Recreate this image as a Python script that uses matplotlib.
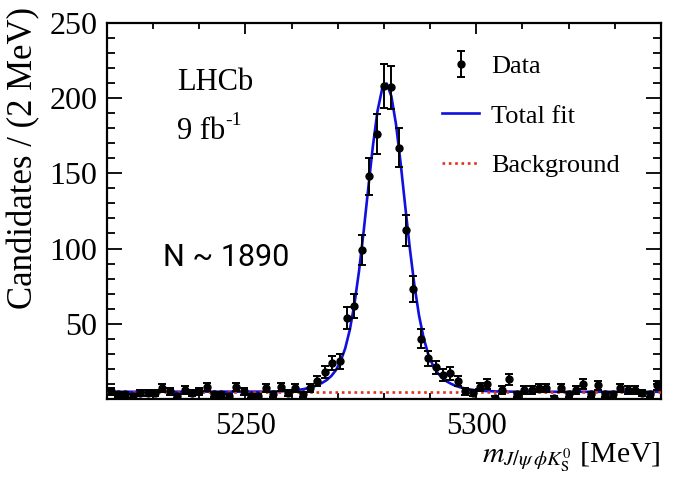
import numpy as np
import matplotlib
matplotlib.use('Agg')
import matplotlib.pyplot as plt
from matplotlib.ticker import MultipleLocator

plt.rcParams['font.family'] = ['Liberation Serif', 'DejaVu Serif']
plt.rcParams['mathtext.fontset'] = 'stix'

# 75 bins between 5220 and 5340 MeV
mass = np.linspace(5220.8, 5339.2, 75)
counts = [5, 3, 3, 2, 4, 4, 4, 7, 5, 2,
          6, 4, 5, 8, 3, 3, 2, 8, 5, 2,
          2, 7, 3, 8, 4, 7, 3, 7, 12, 18,
          24, 25, 54, 62, 99, 148, 176, 208, 207, 167,
          112, 73, 40, 27, 21, 16, 17, 12, 5, 4,
          8, 10, 1, 6, 13, 3, 6, 6, 7, 7,
          1, 7, 3, 6, 10, 3, 9, 3, 3, 7,
          6, 6, 4, 3, 9]
errors = np.sqrt(counts)

# total fit curve
fit_x = [5220, 5254.6, 5257.6, 5259.6, 5260.6, 5261.6, 5262.6, 5263.6, 5264.6, 5265.6,
         5266.6, 5267.6, 5268.6, 5269.6, 5270.6, 5271.6, 5272.6, 5273.6, 5274.6, 5275.6,
         5276.6, 5277.6, 5278.6, 5279.6, 5280.6, 5281.6, 5282.6, 5283.6, 5284.6, 5285.6,
         5286.6, 5287.6, 5288.6, 5289.6, 5290.6, 5291.6, 5292.6, 5293.6, 5294.6, 5295.6,
         5296.6, 5297.6, 5298.6, 5299.6, 5301.6, 5304.6, 5309.6, 5340]
fit_y = [4.8, 4.9, 5.1, 5.4, 5.7, 6.1, 6.6, 7.3, 8.1, 9.2,
         10.7, 12.6, 15.3, 19.2, 25.0, 33.6, 45.9, 63.0, 85.0, 111.3,
         140.1, 168.0, 191.3, 205.9, 209.6, 201.3, 182.8, 157.2, 128.4, 100.3,
         75.6, 55.5, 40.5, 29.7, 22.4, 17.5, 14.1, 11.7, 10.0, 8.7,
         7.7, 7.0, 6.4, 5.9, 5.4, 5.0, 4.8, 4.8]

bkg_x = [5220, 5340]
bkg_y = [4.8, 4.8]

fig = plt.figure(figsize=(6.73, 4.84), dpi=100)
ax = fig.add_axes([0.159, 0.1756, 0.823, 0.7774])

line_fit, = ax.plot(fit_x, fit_y, color='#1010e0', lw=1.9, zorder=2, label='Total fit')
line_bkg, = ax.plot(bkg_x, bkg_y, color='#e0301e', lw=1.9, ls=(0, (1.0, 1.4)), zorder=3,
                    label='Background')
data = ax.errorbar(mass, counts, yerr=errors, fmt='o', color='black', ms=5,
                   elinewidth=1.4, capsize=3, capthick=1.4, zorder=4, label='Data')

ax.set_xlim(5220, 5340)
ax.set_ylim(0, 250)

ax.xaxis.set_major_locator(MultipleLocator(50))
ax.xaxis.set_minor_locator(MultipleLocator(10))
ax.yaxis.set_major_locator(MultipleLocator(50))
ax.yaxis.set_minor_locator(MultipleLocator(10))
ax.set_yticks([50, 100, 150, 200, 250])
ax.tick_params(axis='both', which='both', direction='in', top=True, right=True, width=1.3)
ax.tick_params(axis='x', which='major', length=8, labelsize=22, pad=9)
ax.tick_params(axis='x', which='minor', length=4.5)
ax.tick_params(axis='y', which='major', length=11, labelsize=23, pad=7)
ax.tick_params(axis='y', which='minor', length=5.5)
for s in ax.spines.values():
    s.set_linewidth(1.6)

fig.text(0.035, 0.985, 'Candidates / (2 MeV)', rotation=90, ha='center', va='top', fontsize=25)
fig.text(0.982, 0.045, r'$m_{J/\psi\,\phi K^0_{\rm S}}$ [MeV]', ha='right', va='baseline', fontsize=21.5)

ax.text(0.127, 0.82, 'LHCb', transform=ax.transAxes, fontsize=22)
ax.text(0.127, 0.69, '9 fb', transform=ax.transAxes, fontsize=22)
ax.text(0.214, 0.728, '-1', transform=ax.transAxes, fontsize=14)
ax.text(0.101, 0.375, 'N ~ 1890', transform=ax.transAxes, fontsize=22, va='center',
        family=['Roboto', 'DejaVu Sans'])

ax.legend(handles=[data, line_fit, line_bkg], loc='upper left', bbox_to_anchor=(0.562, 0.978),
          frameon=False, fontsize=19, handlelength=1.4, labelspacing=0.98, handletextpad=0.45)

plt.savefig('out.png', dpi=100)
